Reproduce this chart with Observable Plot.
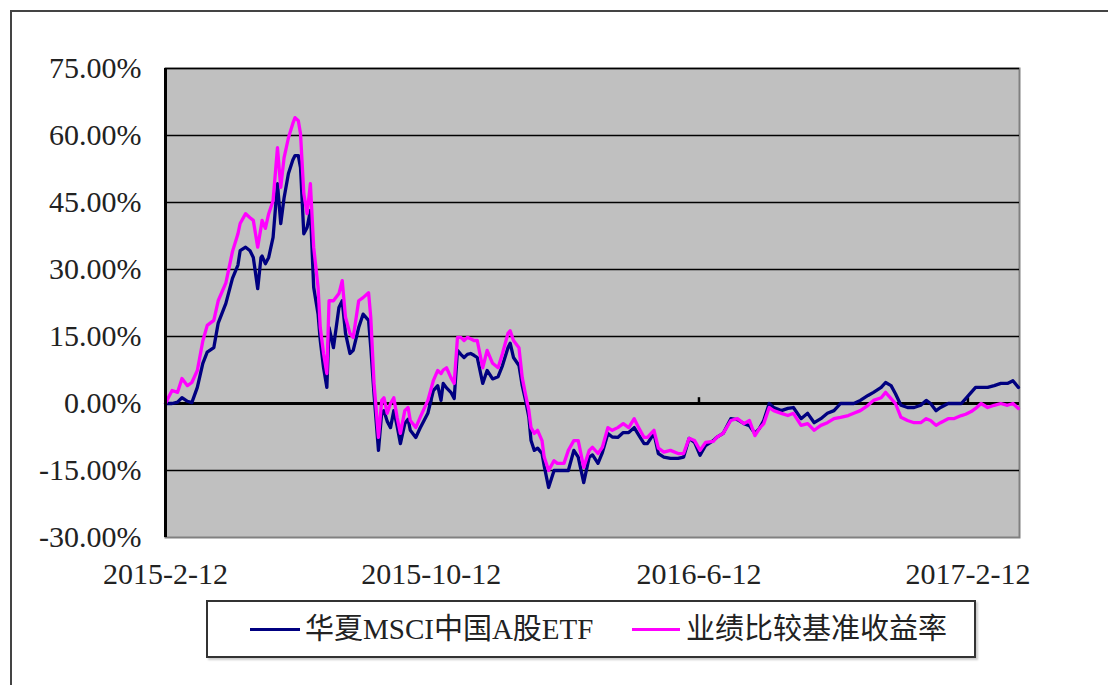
<!DOCTYPE html>
<html><head><meta charset="utf-8">
<script src="https://cdn.jsdelivr.net/npm/d3@7"></script>
<script src="https://cdn.jsdelivr.net/npm/@observablehq/plot@0.6"></script>
<style>
html,body{margin:0;padding:0;background:#fff;}
body{width:1108px;height:685px;overflow:hidden;position:relative;font-family:"Liberation Serif",serif;}
#frame{position:absolute;left:10px;top:10px;width:1130px;height:720px;border:2px solid #444;}
#chart{position:absolute;left:0;top:0;}
#legend{position:absolute;left:206px;top:600px;width:766px;height:54px;border:2px solid #333;box-shadow:2px 2px 2px #ccc;background:#fff;}
.sw{position:absolute;top:26px;height:3px;}
.lt{position:absolute;top:0;line-height:54px;font-size:29px;color:#222;font-family:"Liberation Serif","Noto Sans CJK SC",serif;white-space:nowrap;}
</style>
</head><body>
<div id="frame"></div>
<div id="chart"></div>
<div id="legend"></div>
<script>
const seriesNames = ["华夏MSCI中国A股ETF", "业绩比较基准收益率"];
const seriesColors = ["#000080", "#ff00ff"];
const yTicks = [-30, -15, 0, 15, 30, 45, 60, 75];
const xTickDates = ["2015-02-12", "2015-10-12", "2016-06-12", "2017-02-12"];
const xTickLabels = ["2015-2-12", "2015-10-12", "2016-6-12", "2017-2-12"];
const xDomain = ["2015-02-12", "2017-03-31"];

const dates = [
"2015-02-12","2015-02-15","2015-02-18","2015-02-23","2015-02-27","2015-03-04","2015-03-08","2015-03-13","2015-03-18","2015-03-22",
"2015-03-28","2015-04-01","2015-04-08","2015-04-14","2015-04-19","2015-04-21","2015-04-26","2015-04-30","2015-05-03","2015-05-07",
"2015-05-10","2015-05-11","2015-05-14","2015-05-17","2015-05-21","2015-05-25","2015-05-28","2015-05-31","2015-06-04","2015-06-08",
"2015-06-10","2015-06-13","2015-06-15","2015-06-18","2015-06-21","2015-06-24","2015-06-27","2015-07-01","2015-07-03","2015-07-06",
"2015-07-09","2015-07-11","2015-07-15","2015-07-20","2015-07-23","2015-07-26","2015-07-30","2015-08-02","2015-08-07","2015-08-11",
"2015-08-16","2015-08-18","2015-08-21","2015-08-25","2015-08-28","2015-08-30","2015-09-02","2015-09-05","2015-09-08","2015-09-11",
"2015-09-14","2015-09-18","2015-09-21","2015-09-23","2015-09-28","2015-10-02","2015-10-09","2015-10-14","2015-10-18","2015-10-21",
"2015-10-23","2015-10-26","2015-10-30","2015-11-02","2015-11-05","2015-11-08","2015-11-11","2015-11-14","2015-11-17","2015-11-20",
"2015-11-23","2015-11-28","2015-12-02","2015-12-07","2015-12-12","2015-12-16","2015-12-21","2015-12-23","2015-12-26","2015-12-31",
"2016-01-03","2016-01-06","2016-01-09","2016-01-11","2016-01-14","2016-01-17","2016-01-21","2016-01-23","2016-01-27","2016-02-01",
"2016-02-04","2016-02-10","2016-02-14","2016-02-19","2016-02-23","2016-02-28","2016-03-04","2016-03-07","2016-03-12","2016-03-16",
"2016-03-21","2016-03-25","2016-03-30","2016-04-04","2016-04-09","2016-04-14","2016-04-18","2016-04-23","2016-04-26","2016-05-02",
"2016-05-06","2016-05-11","2016-05-17","2016-05-24","2016-05-29","2016-06-03","2016-06-08","2016-06-13","2016-06-18","2016-06-25",
"2016-06-28","2016-07-04","2016-07-11","2016-07-17","2016-07-23","2016-07-28","2016-08-02","2016-08-06","2016-08-10","2016-08-15",
"2016-08-19","2016-08-26","2016-09-01","2016-09-06","2016-09-13","2016-09-19","2016-09-25","2016-10-01","2016-10-07","2016-10-13",
"2016-10-19","2016-10-26","2016-10-31","2016-11-06","2016-11-13","2016-11-18","2016-11-25","2016-11-29","2016-12-04","2016-12-08",
"2016-12-13","2016-12-19","2016-12-25","2016-12-31","2017-01-05","2017-01-09","2017-01-14","2017-01-18","2017-01-25","2017-01-30",
"2017-02-06","2017-02-10","2017-02-15","2017-02-19","2017-02-24","2017-03-02","2017-03-08","2017-03-14","2017-03-20","2017-03-25","2017-03-30"
];

const etf = [
0,0,0,0.3,1.3,0.5,0.2,3.6,9.0,11.5,
12.5,18.0,22.4,28.0,31.0,34.2,35.0,34.2,32.7,25.7,
32.7,33.0,31.3,32.7,37.2,49.2,40.3,46.0,51.5,54.5,
55.5,55.5,52.8,38.0,39.4,43.2,26.0,20.0,14.1,8.0,
3.6,17.0,12.5,21.5,23.0,15.7,11.2,11.9,17.0,20.0,
18.6,12.5,2.0,-10.5,-2.0,-1.6,-4.0,-5.4,-1.6,-5.0,
-9.0,-4.5,-3.5,-6.0,-7.6,-5.5,-2.2,2.9,4.0,0.7,
4.5,3.5,2.5,1.1,11.9,11.0,10.3,11.0,11.2,10.8,
10.3,4.5,7.4,5.5,6.0,8.5,12.5,13.5,10.3,8.5,
4.0,0.7,-3.0,-8.3,-10.5,-10.0,-11.2,-14.0,-18.8,-15.0,
-15.0,-15.0,-15.0,-10.5,-12.0,-17.7,-12.0,-11.5,-13.4,-11.0,
-6.7,-7.5,-7.6,-6.5,-6.5,-5.4,-7.0,-9.0,-9.0,-6.7,
-11.2,-12.0,-12.3,-12.3,-12.0,-7.8,-8.7,-11.6,-9.4,-8.3,
-7.6,-6.7,-3.4,-3.6,-4.5,-5.0,-6.7,-5.6,-3.8,0.0,
-0.9,-1.6,-1.1,-0.9,-3.4,-2.2,-4.3,-3.4,-2.2,-1.6,
0.0,0.0,0.0,0.7,1.8,2.5,3.6,4.7,4.0,2.2,
-0.4,-0.9,-0.9,-0.4,0.7,0.0,-1.6,-0.9,0.0,0.0,
0.0,1.1,2.5,3.6,3.6,3.6,4.0,4.5,4.5,5.1,3.6
];

const bench = [
0,1.5,2.9,2.5,5.6,4.0,4.7,7.4,14.0,17.5,
18.6,23.0,27.0,34.0,38.0,40.3,42.5,41.6,41.0,35.0,
39.4,41.0,39.2,42.5,45.4,57.3,48.4,55.0,59.5,62.7,
64.0,63.3,60.4,47.0,42.5,49.2,35.0,26.0,17.0,11.2,
6.7,23.0,23.0,24.6,27.5,19.3,15.7,14.8,23.0,23.7,
24.8,19.3,4.5,-7.6,0.7,1.3,-2.2,0.0,1.3,-3.1,
-6.7,-1.6,-0.9,-3.8,-5.4,-3.1,0.7,5.1,7.4,6.7,
7.5,8.0,5.8,4.5,14.8,14.8,14.1,14.8,14.5,14.1,
14.1,8.0,11.9,9.0,8.0,11.2,15.7,16.3,14.1,12.5,
5.8,2.0,-1.5,-5.4,-6.7,-6.0,-8.3,-12.0,-15.0,-12.8,
-13.4,-13.4,-10.5,-8.3,-8.3,-14.3,-10.5,-9.8,-11.2,-9.8,
-5.4,-6.0,-5.4,-4.5,-5.4,-3.4,-5.4,-7.6,-7.6,-6.0,
-10.0,-10.9,-10.5,-11.2,-11.2,-7.8,-8.3,-10.5,-8.7,-8.5,
-7.6,-6.7,-3.8,-3.4,-4.5,-3.8,-7.2,-5.6,-4.5,-0.9,
-1.6,-2.2,-2.7,-2.2,-4.9,-4.5,-6.0,-4.9,-4.3,-3.4,
-3.1,-2.7,-2.2,-1.6,-0.4,0.7,1.3,2.5,1.1,0.0,
-3.1,-3.8,-4.3,-4.3,-3.4,-3.8,-4.9,-4.3,-3.4,-3.4,
-2.7,-2.4,-1.8,-1.1,0.0,-0.9,-0.4,0.0,-0.4,0.0,-1.1
];

const rows = dates.map((d, i) => ({date: new Date(d), etf: etf[i], bench: bench[i]}));
const tickDates = xTickDates.map(d => new Date(d));
const x0 = new Date(xDomain[0]);
const gridVals = yTicks.filter(v => v !== 0 && v !== yTicks[0]);

const chart = Plot.plot({
  width: 1108,
  height: 600,
  marginLeft: 165,
  marginRight: 89,
  marginTop: 68,
  marginBottom: 63,
  style: {fontFamily: "Liberation Serif", fontSize: "30px", color: "#222", background: "transparent", overflow: "visible"},
  x: {type: "utc", domain: xDomain.map(d => new Date(d))},
  y: {domain: [yTicks[0], yTicks[yTicks.length - 1]]},
  marks: [
    Plot.frame({fill: "#c0c0c0", stroke: "#808080", strokeWidth: 2}),
    Plot.ruleY(gridVals, {stroke: "#000", strokeWidth: 1.6}),
    Plot.ruleY([0], {stroke: "#000", strokeWidth: 3}),
    Plot.ruleX(tickDates, {x: d => d, y1: 0, y2: 1.3, stroke: "#000", strokeWidth: 2.5}),
    Plot.line(rows, {x: "date", y: "etf", stroke: seriesColors[0], strokeWidth: 3.3, strokeLinejoin: "round"}),
    Plot.line(rows, {x: "date", y: "bench", stroke: seriesColors[1], strokeWidth: 3.3, strokeLinejoin: "round"}),
    Plot.ruleX([x0], {stroke: "#000", strokeWidth: 3}),
    Plot.axisY({ticks: yTicks, tickSize: 0, tickPadding: 24, fontSize: 30, tickFormat: d => d.toFixed(2) + "%"}),
    Plot.axisX({ticks: tickDates, tickSize: 0, tickPadding: 25, fontSize: 30,
      tickFormat: d => xTickLabels[tickDates.findIndex(t => +t === +d)]})
  ]
});
document.getElementById("chart").appendChild(chart);

const legend = document.getElementById("legend");
const swLeft = [42, 424], swWidth = [50, 48], txtLeft = [97, 478];
seriesNames.forEach((name, i) => {
  const sw = document.createElement("div");
  sw.className = "sw";
  sw.style.left = swLeft[i] + "px";
  sw.style.width = swWidth[i] + "px";
  sw.style.background = seriesColors[i];
  legend.appendChild(sw);
  const t = document.createElement("div");
  t.className = "lt";
  t.style.left = txtLeft[i] + "px";
  t.textContent = name;
  legend.appendChild(t);
});
</script>
</body></html>
